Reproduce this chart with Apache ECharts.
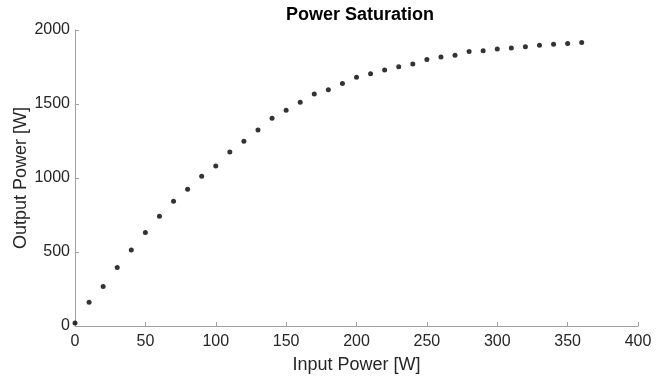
<!DOCTYPE html>
<html>
<head>
<meta charset="utf-8">
<script src="https://cdn.jsdelivr.net/npm/echarts@6/dist/echarts.min.js"></script>
<style>
  html, body { margin: 0; padding: 0; background: #fff; }
  #chart { width: 668px; height: 378px; }
</style>
</head>
<body>
<div id="chart"></div>
<script>
// input power [W]
const inputPower = [0, 10, 20, 30, 40, 50, 60, 70, 80, 90, 100, 110, 120, 130, 140, 150, 160, 170, 180,
  190, 200, 210, 220, 230, 240, 250, 260, 270, 280, 290, 300, 310, 320, 330, 340, 350, 360];
// output power [W]
const outputPower = [20, 161, 267, 395, 513, 632, 742, 843, 924, 1011, 1081, 1175, 1249, 1325, 1404, 1457,
  1511, 1567, 1596, 1639, 1680, 1704, 1729, 1751, 1771, 1800, 1818, 1829, 1854, 1859, 1872, 1879, 1886,
  1897, 1903, 1908, 1915];

const font = 'Liberation Sans, Arial, sans-serif';
const axisColor = '#a0a0a0';
const textColor = '#262626';

const chart = echarts.init(document.getElementById('chart'));
chart.setOption({
  animation: false,
  title: {
    text: 'Power Saturation',
    left: 355,
    top: 1,
    textAlign: 'center',
    textStyle: { fontFamily: font, fontSize: 18, fontWeight: 'bold', color: '#000' },
  },
  grid: { left: 75, right: 30, top: 30, bottom: 52, containLabel: false, outerBoundsMode: 'none' },
  xAxis: {
    type: 'value',
    min: 0,
    max: 400,
    interval: 50,
    name: 'Input Power [W]',
    nameLocation: 'middle',
    nameGap: 30,
    nameTextStyle: { fontFamily: font, fontSize: 18, color: textColor },
    axisLine: { show: true, lineStyle: { color: axisColor, width: 1 } },
    axisTick: { show: true, inside: true, length: 4, lineStyle: { color: axisColor } },
    axisLabel: { fontFamily: font, fontSize: 16, color: textColor, margin: 8, formatter: (v) => String(v) },
    splitLine: { show: false },
  },
  yAxis: {
    type: 'value',
    min: 0,
    max: 2000,
    interval: 500,
    name: 'Output Power [W]',
    nameLocation: 'middle',
    nameGap: 45,
    nameMoveOverlap: false,
    nameTextStyle: { fontFamily: font, fontSize: 18, color: textColor },
    axisLine: { show: true, lineStyle: { color: axisColor, width: 1 } },
    axisTick: { show: true, inside: true, length: 4, lineStyle: { color: axisColor } },
    axisLabel: { fontFamily: font, fontSize: 16, color: textColor, margin: 5, formatter: (v) => String(v) },
    splitLine: { show: false },
  },
  series: [
    {
      type: 'scatter',
      symbol: 'circle',
      symbolSize: 5,
      itemStyle: { color: '#000' },
      data: inputPower.map((x, i) => [x, outputPower[i]]),
    },
  ],
});
</script>
</body>
</html>
